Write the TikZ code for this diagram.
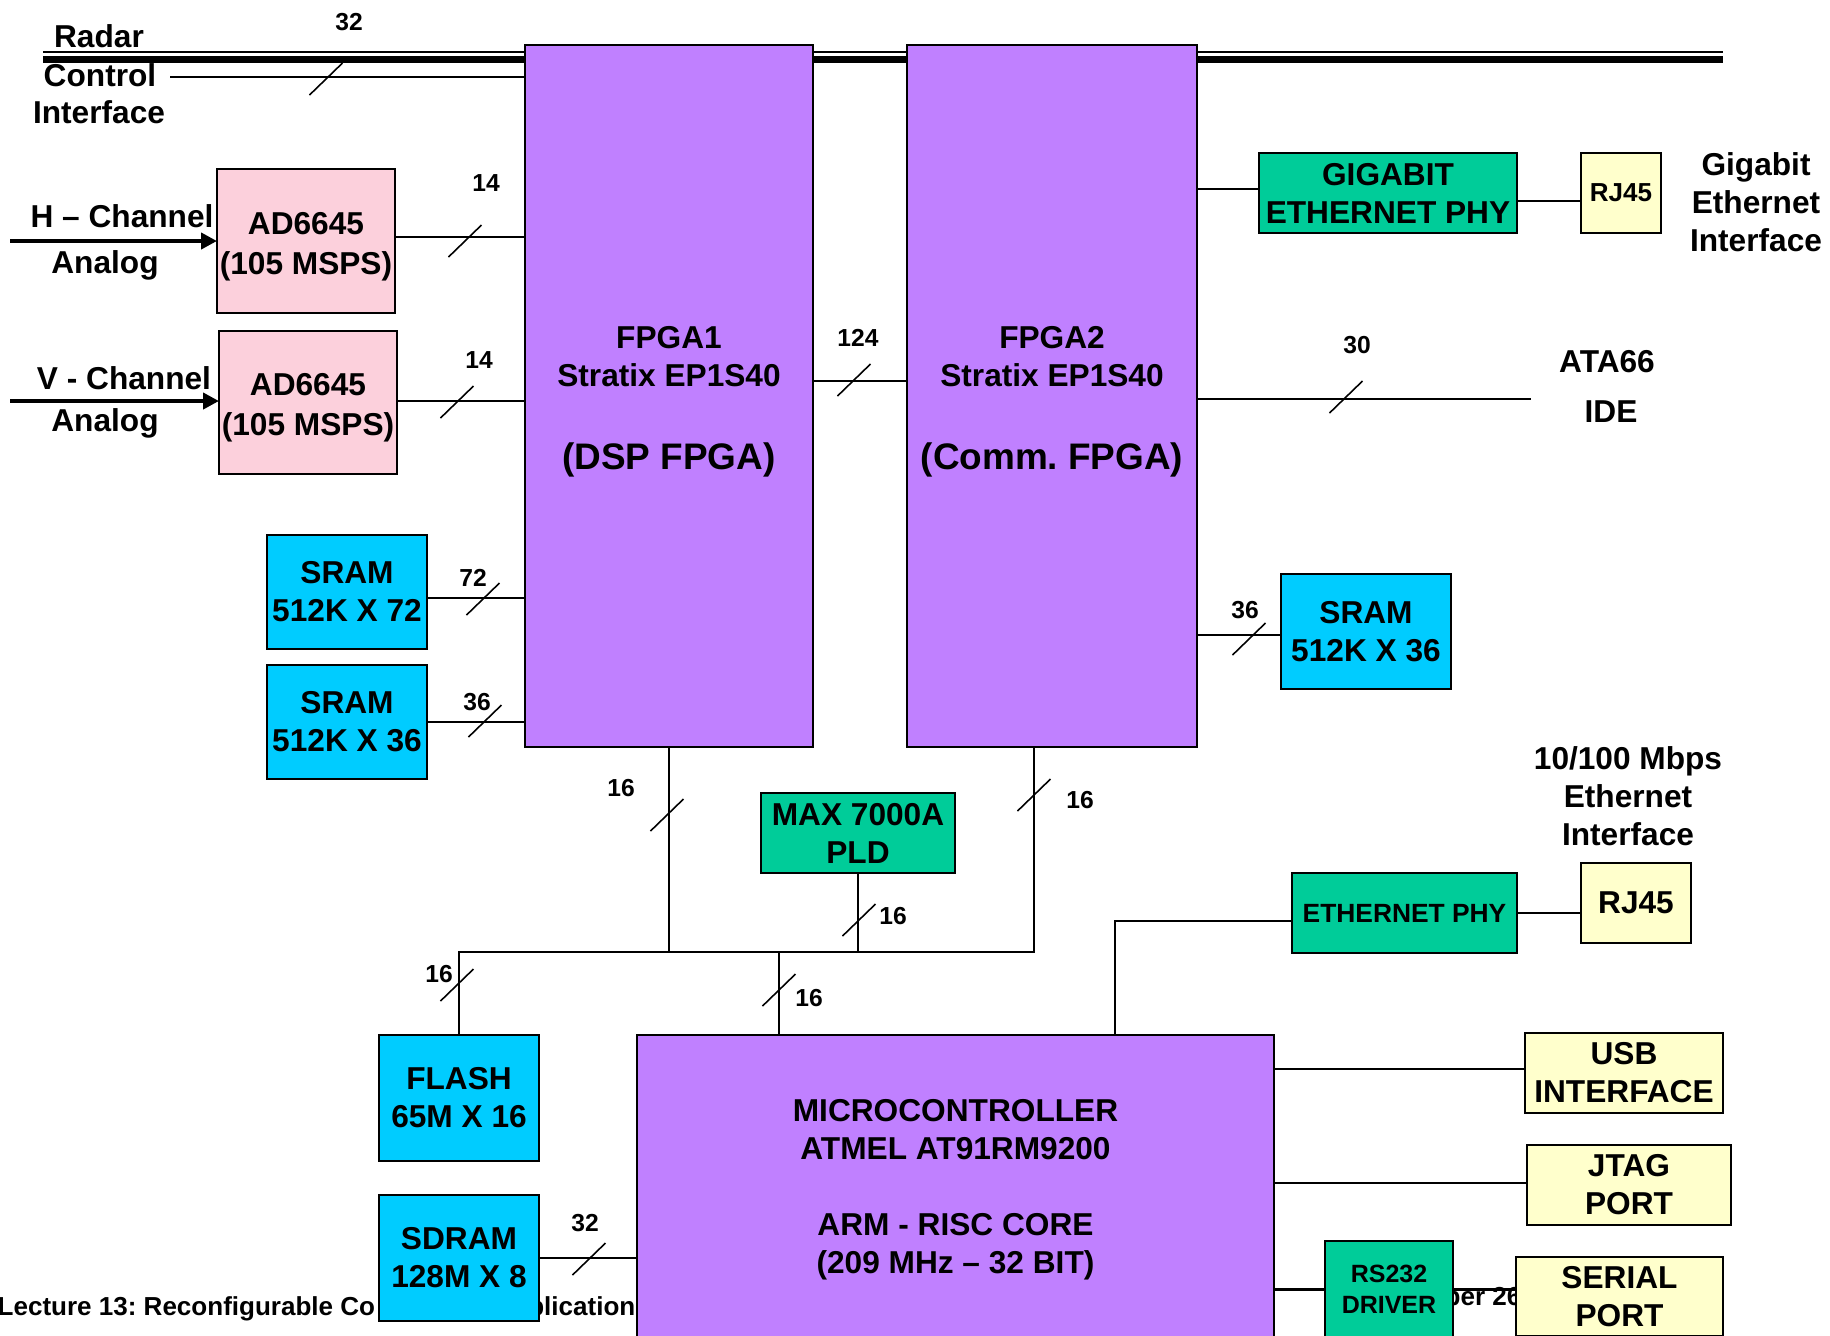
\documentclass[tikz,border=0pt]{standalone}
\usepackage{fontspec}
\setmainfont{Liberation Sans}
\usetikzlibrary{calc,arrows.meta}
\frenchspacing
\definecolor{fpgac}{RGB}{192,128,255}
\definecolor{pinkc}{RGB}{252,208,220}
\definecolor{cyanc}{RGB}{0,204,255}
\definecolor{greenc}{RGB}{0,204,153}
\definecolor{yellc}{RGB}{255,255,204}
\newcommand\myMainFont{\bfseries\fontsize{9}{10.8}\selectfont}
\newcommand\myLblFont{\bfseries\fontsize{7}{8.4}\selectfont}
\newcommand\myFootFont{\bfseries\fontsize{7.4}{8.8}\selectfont}
\newcommand\myRJFont{\bfseries\fontsize{7.4}{8.8}\selectfont}
\newcommand\myEphyFont{\bfseries\fontsize{7.5}{9}\selectfont}
\newcommand\myRSFont{\bfseries\fontsize{7.1}{8.8}\selectfont}
\newcommand\mybox[7]{%
  \pgfmathsetmacro\bxcx{(#2+#4)/2}%
  \pgfmathsetmacro\bxcy{(#3+#5)/2}%
  \pgfmathsetmacro\bxw{(#4-#2)*0.01}%
  \pgfmathsetmacro\bxh{(#5-#3)*0.01}%
  \node[#6, minimum width=\bxw cm, minimum height=\bxh cm] (#1) at (\bxcx,\bxcy) {#7};}
\newcommand\slashat[2]{\draw[slashln] (#1-16.5,#2+16) -- (#1+16.5,#2-16);}
\begin{document}
\begin{tikzpicture}[x=0.01cm,y=-0.01cm,
  box/.style={draw, line width=0.7pt, inner sep=0pt, outer sep=0pt, align=center, font=\myMainFont},
  txt/.style={inner sep=0pt, align=center, font=\myMainFont},
  lbl/.style={inner sep=0pt, font=\myLblFont},
  foot/.style={inner sep=0pt, font=\myFootFont},
  conn/.style={line width=0.6pt},
  slashln/.style={line width=0.45pt},
  arr/.style={line width=1.2pt, -{Triangle[length=4.5pt,width=4.5pt]}}]
\useasboundingbox (0,0) rectangle (1830,1335);
\clip (0,0) rectangle (1830,1335);

% footer (partly hidden)
\node[foot, anchor=base west] (foot1) at (-3,1315) {Lecture 13: Reconfigurable Co};
\node[foot, anchor=base east] (foot2) at (636,1315) {plication};
\node[foot, anchor=base west] (foot3) at (1444,1305) {ber 26};

% top bus
\coordinate (busL) at (43,52); \coordinate (busR) at (1723,52);
\draw[line width=0.55pt] (busL) -- (busR);
\coordinate (busL2) at (43,59.5); \coordinate (busR2) at (1723,59.5);
\draw[line width=2pt] (busL2) -- (busR2);

% boxes
\mybox{fpgaA}{525}{45}{813}{747}{box,fill=fpgac}{\rule{0pt}{9.5pt}FPGA1\\Stratix EP1S40\\[12.7pt]{\fontsize{10.5}{12}\selectfont (DSP FPGA)}}
\mybox{fpgaB}{907}{45}{1197}{747}{box,fill=fpgac}{\rule{0pt}{9.5pt}FPGA2\\Stratix EP1S40\\[12.7pt]{\fontsize{10.5}{12}\selectfont (Comm. FPGA)}}
\mybox{adH}{217}{169}{395}{313}{box,fill=pinkc}{\rule{0pt}{9.5pt}AD6645\\[0.6pt](105 MSPS)}
\mybox{adV}{219}{331}{397}{474}{box,fill=pinkc}{\rule{0pt}{9.5pt}AD6645\\[0.6pt](105 MSPS)}
\mybox{sramA}{267}{535}{427}{649}{box,fill=cyanc}{SRAM\\512K X 72}
\mybox{sramB}{267}{665}{427}{779}{box,fill=cyanc}{SRAM\\512K X 36}
\mybox{sramC}{1281}{574}{1451}{689}{box,fill=cyanc}{SRAM\\512K X 36}
\mybox{gphy}{1259}{153}{1517}{233}{box,fill=greenc}{GIGABIT\\ETHERNET PHY}
\mybox{rjA}{1581}{153}{1661}{233}{box,fill=yellc,font=\myRJFont}{RJ45}
\mybox{maxp}{761}{793}{955}{873}{box,fill=greenc}{MAX 7000A\\PLD}
\mybox{flash}{379}{1035}{539}{1161}{box,fill=cyanc}{FLASH\\65M X 16}
\mybox{sdram}{379}{1195}{539}{1321}{box,fill=cyanc}{SDRAM\\128M X 8}
\mybox{mcu}{637}{1035}{1274}{1345}{box,fill=fpgac}{MICROCONTROLLER\\ATMEL AT91RM9200\\[10.8pt]ARM - RISC CORE\\(209 MHz – 32 BIT)}
\mybox{ephy}{1292}{873}{1517}{953}{box,fill=greenc,font=\myEphyFont}{ETHERNET PHY}
\mybox{rjB}{1581}{863}{1691}{943}{box,fill=yellc}{RJ45}
\mybox{usb}{1525}{1033}{1723}{1113}{box,fill=yellc}{USB\\INTERFACE}
\mybox{jtag}{1527}{1145}{1731}{1225}{box,fill=yellc}{JTAG\\PORT}
\mybox{rs}{1325}{1241}{1453}{1338}{box,fill=greenc,font=\myRSFont}{RS232\\DRIVER}
\mybox{serial}{1516}{1257}{1723}{1336}{box,fill=yellc}{SERIAL\\PORT}

% free texts
\node[txt] (radar) at (99,36) {Radar};
\node[txt] (control) at (100,75) {Control};
\node[txt] (iface) at (99,112) {Interface};
\node[txt] (hch) at (122,216) {H – Channel};
\node[txt] (hanalog) at (105,265) {Analog};
\node[txt] (vch) at (124,378) {V - Channel};
\node[txt] (vanalog) at (105,423) {Analog};
\node[txt] (giga) at (1756,202) {Gigabit\\Ethernet\\Interface};
\node[txt] (ata) at (1607,362) {ATA66};
\node[txt] (ide) at (1611,412) {IDE};
\node[txt] (fast) at (1628,796) {10/100 Mbps\\Ethernet\\Interface};

% connectors
\coordinate (ctrlS) at (170,77);
\draw[conn] (ctrlS) -- (ctrlS -| fpgaA.west);
\coordinate (hin) at (10,241);
\draw[arr] (hin) -- (hin -| adH.west);
\coordinate (vin) at (10,401);
\draw[arr] (vin) -- (vin -| adV.west);
\coordinate (cH) at ($(adH.east)+(0,-4)$);
\draw[conn] (cH) -- (cH -| fpgaA.west);
\coordinate (cV) at ($(adV.east)+(0,-1.5)$);
\draw[conn] (cV) -- (cV -| fpgaA.west);
\coordinate (c72) at ($(sramA.east)+(0,6)$);
\draw[conn] (c72) -- (c72 -| fpgaA.west);
\draw[conn] (sramB.east) -- (sramB.east -| fpgaA.west);
\coordinate (c124) at ($(fpgaA.east)+(0,-15)$);
\draw[conn] (c124) -- (c124 -| fpgaB.west);
\coordinate (cG) at ($(gphy.west)+(0,-4)$);
\draw[conn] (cG -| fpgaB.east) -- (cG);
\coordinate (cR) at ($(gphy.east)+(0,8)$);
\draw[conn] (cR) -- (cR -| rjA.west);
\coordinate (ataE) at (1531,399);
\draw[conn] (ataE -| fpgaB.east) -- (ataE);
\coordinate (cS) at ($(sramC.west)+(0,3.5)$);
\draw[conn] (cS -| fpgaB.east) -- (cS);
\coordinate (hbL) at (459,952);
\coordinate (hbR) at (1034,952);
\draw[conn] (flash.north) -- (hbL) -- (hbR) -- (hbR |- fpgaB.south);
\draw[conn] (fpgaA.south) -- (fpgaA.south |- hbL);
\draw[conn] (maxp.south) -- (maxp.south |- hbL);
\coordinate (mj) at (779,952);
\draw[conn] (mj) -- (mj |- mcu.north);
\coordinate (cE) at ($(ephy.west)+(0,8)$);
\coordinate (ex) at (1115,0);
\draw[conn] (cE) -| (ex |- mcu.north);
\draw[conn] (ephy.east) -- (ephy.east -| rjB.west);
\coordinate (cU) at ($(usb.west)+(0,-4)$);
\draw[conn] (cU -| mcu.east) -- (cU);
\coordinate (cJ) at ($(jtag.west)+(0,-2)$);
\draw[conn] (cJ -| mcu.east) -- (cJ);
\draw[conn] (rs.west -| mcu.east) -- (rs.west);
\draw[conn] (rs.east) -- (rs.east -| serial.west);
\draw[conn] (sdram.east) -- (sdram.east -| mcu.west);

% bus-width slashes
\slashat{326}{79}
\slashat{465}{241}
\slashat{457}{402}
\slashat{483}{599}
\slashat{485}{721}
\slashat{854}{380}
\slashat{1346}{397}
\slashat{1249}{639}
\slashat{667}{815}
\slashat{1034}{795}
\slashat{859}{920}
\slashat{457}{985}
\slashat{779}{990}
\slashat{589}{1259}

% bus-width labels
\node[lbl] (l32a) at (349,22) {32};
\node[lbl] (l14a) at (486,183) {14};
\node[lbl] (l14b) at (479,360) {14};
\node[lbl] (l72) at (473,578) {72};
\node[lbl] (l36a) at (477,702) {36};
\node[lbl] (l124) at (858,338) {124};
\node[lbl] (l30) at (1357,345) {30};
\node[lbl] (l36b) at (1245,610) {36};
\node[lbl] (l16a) at (621,788) {16};
\node[lbl] (l16b) at (1080,800) {16};
\node[lbl] (l16c) at (893,916) {16};
\node[lbl] (l16d) at (439,974) {16};
\node[lbl] (l16e) at (809,998) {16};
\node[lbl] (l32b) at (585,1223) {32};
\end{tikzpicture}
\end{document}
